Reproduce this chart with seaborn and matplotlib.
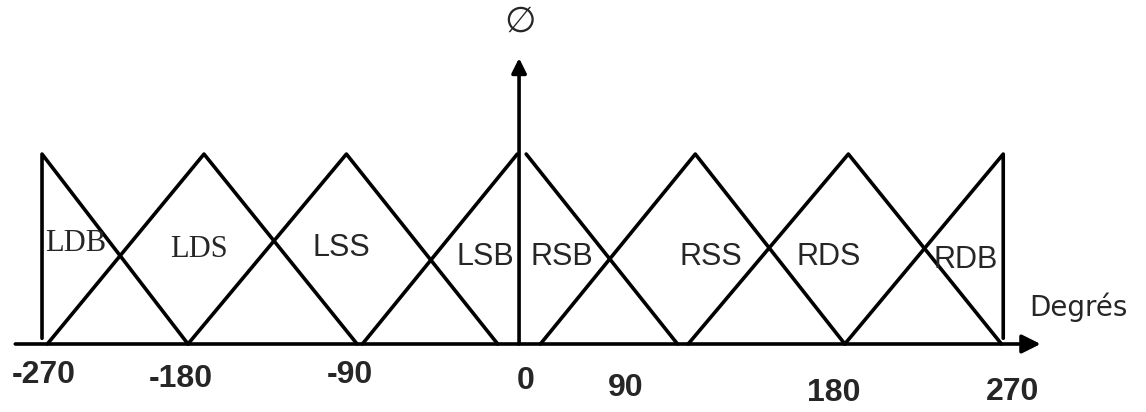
import pandas as pd
import seaborn as sns
import matplotlib.pyplot as plt

# Membership functions (angle in degrees, membership 0..1)
sets = ['LDB', 'LDS', 'LSS', 'LSB', 'RSB', 'RSS', 'RDS', 'RDB']
set_x = [
    [-268, -268, -186],
    [-265, -177, -91],
    [-186, -97, -12],
    [-88, -1],
    [4, 89],
    [12, 99, 183],
    [95, 185, 271],
    [183, 272, 272],
]
set_y = [
    [0.03, 1, 0],
    [0, 1, 0],
    [0, 1, 0],
    [0, 1],
    [1, 0],
    [0, 1, 0],
    [0, 1, 0],
    [0, 1, 0.03],
]

# where the set names are written
label_x = [-249, -180, -100, -19, 24, 108, 174, 251]
label_y = [0.53, 0.50, 0.505, 0.46, 0.46, 0.46, 0.46, 0.44]

# x axis labels
tick_labels = ['-270', '-180', '-90', '0', '90', '180', '270']
tick_x = [-267, -190, -95, 4, 60, 177, 277]
tick_y = [-0.163, -0.184, -0.163, -0.195, -0.23, -0.258, -0.253]

rows = []
for name, xs, ys in zip(sets, set_x, set_y):
    for i, (x, y) in enumerate(zip(xs, ys)):
        rows.append({'set': name, 'order': i, 'deg': x, 'mu': y})
df = pd.DataFrame(rows)

sns.set_style('white')
fig = plt.figure(figsize=(11.46, 4.12), dpi=100)
ax = fig.add_axes([0, 0, 1, 1])

sns.lineplot(data=df, x='deg', y='mu', units='set', estimator=None, sort=False,
             color='black', lw=2.6, ax=ax, legend=False)

# axes arrows
ax.annotate('', xy=(293, 0), xytext=(-283, 0),
            arrowprops=dict(arrowstyle='-|>', lw=2.6, color='black', mutation_scale=28,
                            shrinkA=0, shrinkB=0))
ax.annotate('', xy=(0, 1.505), xytext=(0, 0),
            arrowprops=dict(arrowstyle='-|>', lw=2.6, color='black', mutation_scale=22,
                            shrinkA=0, shrinkB=0))

serif_sets = ['LDB', 'LDS']
for name, x, y in zip(sets, label_x, label_y):
    fam = 'Liberation Serif' if name in serif_sets else 'Liberation Sans'
    ax.text(x, y, name, ha='center', va='center', fontsize=22, family=fam)

for lab, x, y in zip(tick_labels, tick_x, tick_y):
    ax.text(x, y, lab, ha='center', va='center', fontsize=23, fontweight='bold',
            family='Liberation Sans')

ax.text(314, 0.195, 'Degrés', ha='center', va='center', fontsize=20, family='DejaVu Sans')
ax.text(0.5, 1.695, '\u2205', ha='center', va='center', fontsize=26, family='DejaVu Sans')

ax.set_xlim(-291.6, 352.2)
ax.set_ylim(-0.358, 1.811)
ax.set_axis_off()

plt.savefig('out.png', dpi=100)
plt.close()
